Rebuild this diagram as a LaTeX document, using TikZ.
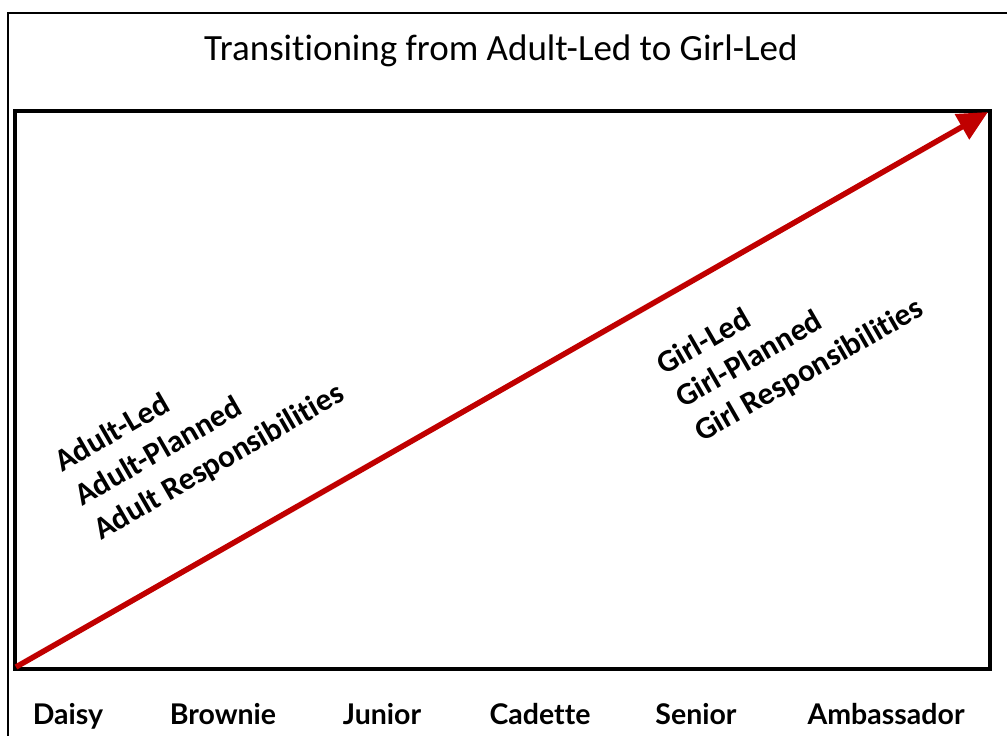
\documentclass[tikz,border=0pt]{standalone}
\usepackage{fontspec}
\setmainfont{Carlito}[Ligatures=NoCommon]
\newfontfamily\levelfont{Lato}[Ligatures=NoCommon]
\usetikzlibrary{arrows.meta,
                positioning}
\definecolor{arrowred}{RGB}{192,0,0}

\begin{document}
\begin{tikzpicture}[x=1pt, y=-1pt,
level label/.style = {font=\levelfont\bfseries\fontsize{28.5}{32}\selectfont,
                      inner sep=0pt, anchor=base},
lead text/.style   = {font=\bfseries\fontsize{31.5}{36}\selectfont,
                      rotate=30, inner sep=0pt, anchor=base west}
                   ]
\useasboundingbox (0,0) rectangle (1007,736);
% outer frame, cut off at right and bottom
\draw[line width=2pt] (8,736) -- (8,13) -- (1007,13);
\node[font=\fontsize{37}{40}\selectfont, anchor=base] (title) at (501,60)
    {Transitioning from Adult-Led to Girl-Led};
% chart box
\draw[line width=4pt] (15,111) coordinate (tl) rectangle (990,669) coordinate (br);
\coordinate (start) at (16,667);
\coordinate (end) at (988,112);
\draw[arrowred, line width=5.5pt,
      -{Triangle[length=30pt, width=28pt]}] (start) -- (end);
% rotated texts
\node[lead text] (adultled)     at (62,473)  {Adult-Led};
\node[lead text] (adultplanned) at (82,507)  {Adult-Planned};
\node[lead text] (adultresp)    at (101,541) {Adult Responsibilities};
\node[lead text] (girlled)      at (664,376) {Girl-Led};
\node[lead text] (girlplanned)  at (683,409) {Girl-Planned};
\node[lead text] (girlresp)     at (702,443) {Girl Responsibilities};
% levels
\node[level label] (daisy)      at (68,724)  {Daisy};
\node[level label] (brownie)    at (223,724) {Brownie};
\node[level label] (junior)     at (382,724) {Junior};
\node[level label] (cadette)    at (540,724) {Cadette};
\node[level label] (senior)     at (696,724) {Senior};
\node[level label] (ambassador) at (886,724) {Ambassador};
\end{tikzpicture}
\end{document}
